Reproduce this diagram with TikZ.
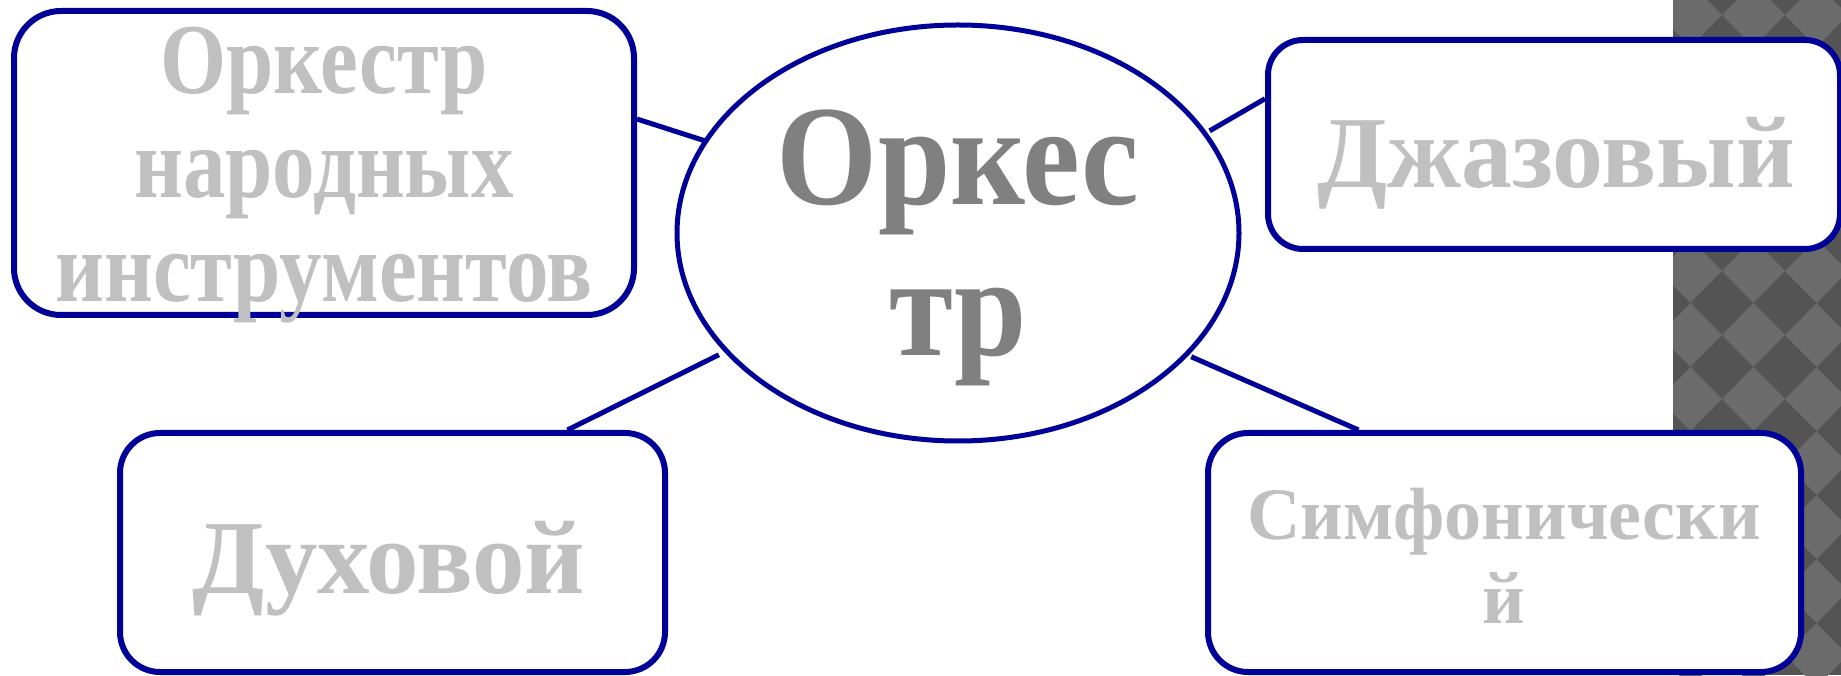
\documentclass[tikz,border=0pt]{standalone}
\usepackage{fontspec}
\setmainfont{Liberation Serif}
\usetikzlibrary{shapes.geometric}
\definecolor{frame}{RGB}{0,0,152}
\definecolor{lighttxt}{RGB}{192,192,192}
\definecolor{midtxt}{RGB}{128,128,128}
\definecolor{patdark}{RGB}{84,84,84}
\definecolor{patlight}{RGB}{107,107,107}
\begin{document}
\begin{tikzpicture}[x=1pt,y=1pt,
  box/.style={draw=frame, line width=6pt, fill=white, inner sep=0pt},
  oval/.style={ellipse, draw=frame, line width=5pt, fill=white, inner sep=0pt},
  conn/.style={draw=frame, line width=5pt, shorten >=3pt},
  lbl/.style={text=lighttxt, anchor=base, inner sep=0pt},
  ctr/.style={text=midtxt, anchor=base, inner sep=0pt, font=\fontsize{130}{150}\selectfont\bfseries},
]
\useasboundingbox (0,0) rectangle (1841,675);
\fill[white] (0,0) rectangle (1841,675);
% patterned strip
\begin{scope}
  \clip (1673,0) rectangle (1841,675);
  \fill[patdark] (1673,0) rectangle (1841,675);
  \foreach \i in {0,...,3}{
    \foreach \j in {-6,...,6}{
      \fill[patlight] ({1690.5+63*\i-31.5},{340+64*\j}) -- ++(31.5,32) -- ++(31.5,-32) -- ++(-31.5,-32) -- cycle;
    }
  }
\end{scope}
% shapes
\node[oval, minimum width=562pt, minimum height=416pt] (ell) at (958,442) {};
\node[box, rounded corners=47pt, minimum width=620pt, minimum height=304pt] (b1) at (324,512) {};
\node[box, rounded corners=35pt, minimum width=572pt, minimum height=209pt] (dj) at (1554,530.5) {};
\node[box, rounded corners=40pt, minimum width=545pt, minimum height=239pt] (du) at (392.5,122.5) {};
\node[box, rounded corners=40pt, minimum width=593pt, minimum height=239pt] (si) at (1504.5,122.5) {};
% connectors
\draw[conn, shorten >=-1pt] (b1.8.8) -- (ell.160.5);
\draw[conn] (dj.171.35) -- (ell.22.5);
\draw[conn, shorten >=6pt] (du.35) -- (ell.207.9);
\draw[conn] (si.140.4) -- (ell.332.2);
% texts
\node[ctr] (c1) at (958,470) {\scalebox{1}[1.1]{Оркес}};
\node[ctr] (c2) at (958,319) {\scalebox{1}[1.1]{тр}};
\begin{scope}[every node/.append style={font=\fontsize{85}{100}\selectfont\bfseries}]
\node[lbl] (t1) at (324,581) {\scalebox{1}[1.18]{Оркестр}};
\node[lbl] (t2) at (324,477) {\scalebox{1}[1.18]{народных}};
\node[lbl] (t3) at (324,373) {\scalebox{1}[1.18]{инструментов}};
\end{scope}
\node[lbl, font=\fontsize{102}{120}\selectfont\bfseries] (t4) at (1556,487) {Джазовый};
\node[lbl, font=\fontsize{105}{120}\selectfont\bfseries] (t5) at (389,82) {Духовой};
\node[lbl, font=\fontsize{74}{80}\selectfont\bfseries] (t6) at (1504,136) {Симфонически};
\node[lbl, font=\fontsize{74}{80}\selectfont\bfseries] (t7) at (1504,52) {й};
\end{tikzpicture}
\end{document}
